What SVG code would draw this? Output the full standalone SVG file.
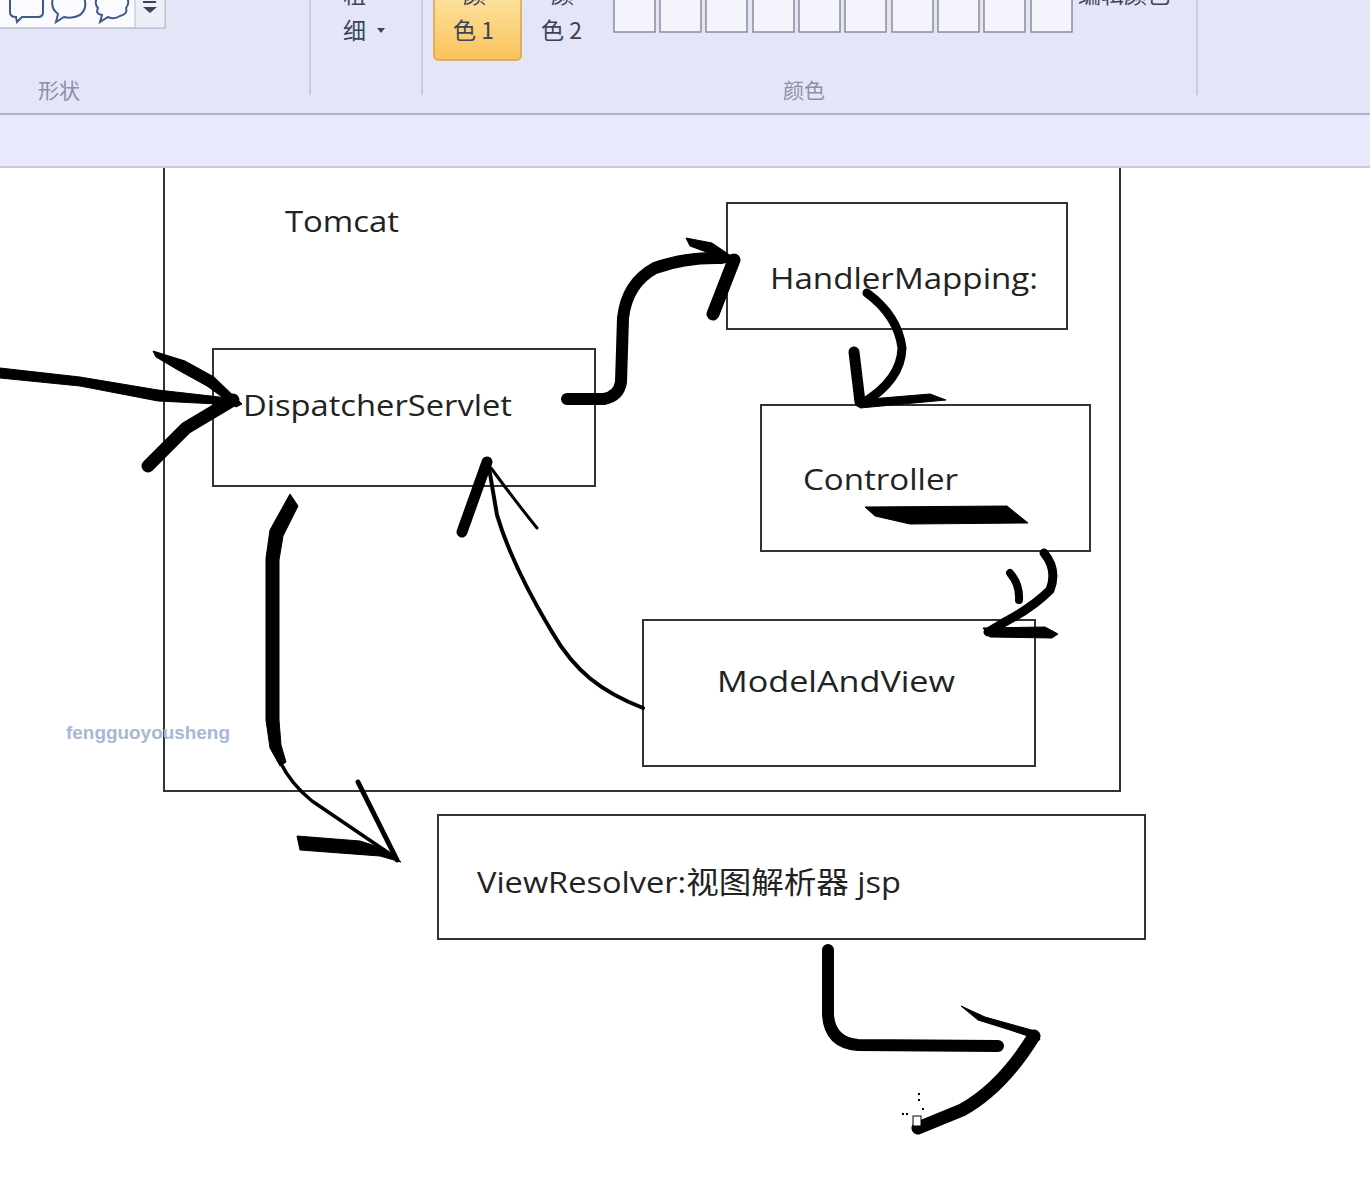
<svg xmlns="http://www.w3.org/2000/svg" width="1370" height="1204" viewBox="0 0 1370 1204">
<defs>
<linearGradient id="og" x1="0" y1="0" x2="0" y2="1"><stop offset="0" stop-color="#fde3a0"/><stop offset="1" stop-color="#fbc25c"/></linearGradient>
<style>
.ui{font-family:"Noto Sans CJK SC","Noto Sans",sans-serif;fill:#3a4458}
.grp{font-family:"Noto Sans CJK SC","Noto Sans",sans-serif;fill:#8a90a8;font-size:21px}
.sep{stroke:#bfc4d8;stroke-width:1.5}
.sw{fill:#f3f4fc;stroke:#8c8c96;stroke-width:1.5}
.box{fill:#fff;stroke:#333;stroke-width:2}
.lbl{font-family:"Open Sans","Noto Sans CJK SC",sans-serif;font-size:30px;fill:#222}
.ink{fill:none;stroke:#000;stroke-linecap:round;stroke-linejoin:round}
.inkf{fill:#000;stroke:#000;stroke-width:1;stroke-linejoin:round}
</style>
</defs>
<rect width="1370" height="1204" fill="#fff"/>
<g id="canvas-frame">
<rect x="164" y="150" width="956" height="641" fill="none" stroke="#333" stroke-width="2"/>
</g>
<g id="toolbar">
<rect x="0" y="0" width="1370" height="113" fill="#e4e6f8"/>
<rect x="0" y="113" width="1370" height="2" fill="#a9b5cc"/>
<rect x="0" y="115" width="1370" height="51" fill="#e8e9fa"/>
<rect x="0" y="166" width="1370" height="2" fill="#c8cad8"/>
<rect x="-2" y="-2" width="167" height="30" fill="#fbfbff" stroke="#b8bccc" stroke-width="1.5"/>
<rect x="135" y="-2" width="30" height="30" fill="#eceef8" stroke="#b8bccc" stroke-width="1"/>
<path d="M10,-2 L10,12 Q10,17 16,17 L17,22 L22,17 L38,17 Q43,17 43,12 L43,-2" fill="none" stroke="#3d5a88" stroke-width="2"/>
<path d="M53,-2 Q50,8 58,14 L56,22 L64,17 Q72,19 80,15 Q88,8 84,-2" fill="none" stroke="#3d5a88" stroke-width="2"/>
<path d="M97,-2 Q94,4 98,8 Q95,14 102,15 L100,22 L108,17 Q114,20 120,16 Q128,14 126,8 Q130,3 127,-2" fill="none" stroke="#3d5a88" stroke-width="2"/>
<rect x="143" y="1" width="13" height="2" fill="#3a4458"/>
<path d="M143,7 L157,7 L150,13 Z" fill="#3a4458"/>
<text class="grp" x="38" y="98">形状</text>
<line class="sep" x1="310" y1="0" x2="310" y2="95"/>
<line class="sep" x1="422" y1="0" x2="422" y2="95"/>
<line class="sep" x1="1197" y1="0" x2="1197" y2="95"/>
<text class="ui" x="343" y="3" font-size="23">粗</text>
<text class="ui" x="343" y="39" font-size="23">细</text>
<path d="M377,28 L385,28 L381,33 Z" fill="#3a4458"/>
<rect x="434" y="-6" width="87" height="66" rx="4" fill="url(#og)" stroke="#d9a24a" stroke-width="1.5"/>
<text class="ui" x="463" y="3" font-size="23">颜</text>
<text class="ui" x="453" y="39" font-size="23">色 1</text>
<text class="ui" x="551" y="3" font-size="23">颜</text>
<text class="ui" x="541" y="39" font-size="23">色 2</text>
<rect class="sw" x="614" y="-4" width="41" height="36"/>
<rect class="sw" x="660" y="-4" width="41" height="36"/>
<rect class="sw" x="706" y="-4" width="41" height="36"/>
<rect class="sw" x="753" y="-4" width="41" height="36"/>
<rect class="sw" x="799" y="-4" width="41" height="36"/>
<rect class="sw" x="845" y="-4" width="41" height="36"/>
<rect class="sw" x="892" y="-4" width="41" height="36"/>
<rect class="sw" x="938" y="-4" width="41" height="36"/>
<rect class="sw" x="984" y="-4" width="41" height="36"/>
<rect class="sw" x="1031" y="-4" width="41" height="36"/>
<text class="ui" x="1078" y="3" font-size="23">编辑颜色</text>
<text class="grp" x="783" y="98">颜色</text>
</g>
<g id="tomcat-label"><text class="lbl" x="285" y="232" textLength="114" lengthAdjust="spacingAndGlyphs">Tomcat</text></g>
<g id="node-dispatcher">
<rect class="box" x="213" y="349" width="382" height="137"/>
<text class="lbl" x="243" y="416" textLength="269" lengthAdjust="spacingAndGlyphs">DispatcherServlet</text>
</g>
<g id="node-handlermapping">
<rect class="box" x="727" y="203" width="340" height="126"/>
<text class="lbl" x="770" y="289" textLength="268" lengthAdjust="spacingAndGlyphs">HandlerMapping:</text>
</g>
<g id="node-controller">
<rect class="box" x="761" y="405" width="329" height="146"/>
<text class="lbl" x="803" y="490" textLength="155" lengthAdjust="spacingAndGlyphs">Controller</text>
</g>
<g id="node-modelandview">
<rect class="box" x="643" y="620" width="392" height="146"/>
<text class="lbl" x="717" y="692" textLength="238" lengthAdjust="spacingAndGlyphs">ModelAndView</text>
</g>
<g id="node-viewresolver">
<rect class="box" x="438" y="815" width="707" height="124"/>
<text class="lbl" x="477" y="893" textLength="424" lengthAdjust="spacingAndGlyphs">ViewResolver:视图解析器 jsp</text>
</g>
<g id="watermark"><text x="66" y="739" font-family="Liberation Sans,Arial,sans-serif" font-weight="bold" font-size="18" fill="#a9b7d4" textLength="164" lengthAdjust="spacingAndGlyphs">fengguoyousheng</text></g>
<g id="connectors">
<!-- incoming -->
<polygon class="inkf" points="0,368 80,377 158,390 237,399 237,405 158,401 80,386 0,378"/>
<polygon class="inkf" points="153,351 185,361 214,377 242,404 236,407 207,386 178,370 156,357"/>
<path class="ink" d="M148,466 L186,428 L233,400" stroke-width="13"/>
<!-- DS -> HandlerMapping -->
<path class="ink" d="M567,399 L604,399 Q619,396 621,382 L623,318 Q627,283 655,268 Q685,257 722,258" stroke-width="12"/>
<polygon class="inkf" points="686,238 712,243 737,260 731,266 709,253 690,246"/>
<path class="ink" d="M713,314 L734,260" stroke-width="13"/>
<!-- HandlerMapping -> Controller -->
<path class="ink" d="M867,293 Q898,316 902,348 Q901,380 863,403" stroke-width="9"/>
<path class="ink" d="M854,352 L860,402" stroke-width="11"/>
<polygon class="inkf" points="858,400 930,394 946,400 860,408"/>
<!-- Controller underline -->
<polygon class="inkf" points="865,507 1007,506 1028,523 910,524 875,516"/>
<!-- Controller -> ModelAndView -->
<path class="ink" d="M1044,553 Q1058,570 1050,590 Q1032,608 1003,623 L988,632" stroke-width="9"/>
<path class="ink" d="M1010,573 Q1020,585 1019,600" stroke-width="8"/>
<polygon class="inkf" points="983,628 1045,627 1058,634 1052,638 990,637"/>
<!-- ModelAndView -> DS -->
<path class="ink" d="M643,708 C602,692 575,672 552,632 C528,592 508,552 497,515 L488,462" stroke-width="4"/>
<path class="ink" d="M462,532 L487,462" stroke-width="11"/>
<path class="ink" d="M491,468 Q516,502 537,528" stroke-width="3"/>
<!-- DS -> ViewResolver -->
<polygon class="inkf" points="290,494 298,506 283,536 279,560 279,720 281,745 286,762 280,766 270,748 266,720 266,558 270,530"/>
<path class="ink" d="M276,752 Q286,780 312,801 L396,858" stroke-width="3.5"/>
<path class="ink" d="M358,782 L397,860" stroke-width="5"/>
<polygon class="inkf" points="297,836 360,841 385,849 401,862 380,856 300,850"/>
<!-- ViewResolver -> out -->
<path class="ink" d="M828,950 L828,1015 Q830,1043 858,1045 L998,1046" stroke-width="12"/>
<polygon class="inkf" points="961,1006 985,1017 1035,1031 1040,1040 1010,1030 978,1020"/>
<path class="ink" d="M1034,1036 Q1002,1088 962,1110 L918,1128" stroke-width="13"/>
<rect x="913" y="1116" width="8" height="10" fill="#fff" stroke="#000" stroke-width="1"/>
<rect x="918" y="1093" width="2" height="2" fill="#000"/>
<rect x="918" y="1099" width="2" height="2" fill="#000"/>
<rect x="902" y="1113" width="2" height="2" fill="#000"/>
<rect x="906" y="1113" width="2" height="2" fill="#000"/>
<rect x="922" y="1108" width="2" height="2" fill="#000"/>
</g>
</svg>
